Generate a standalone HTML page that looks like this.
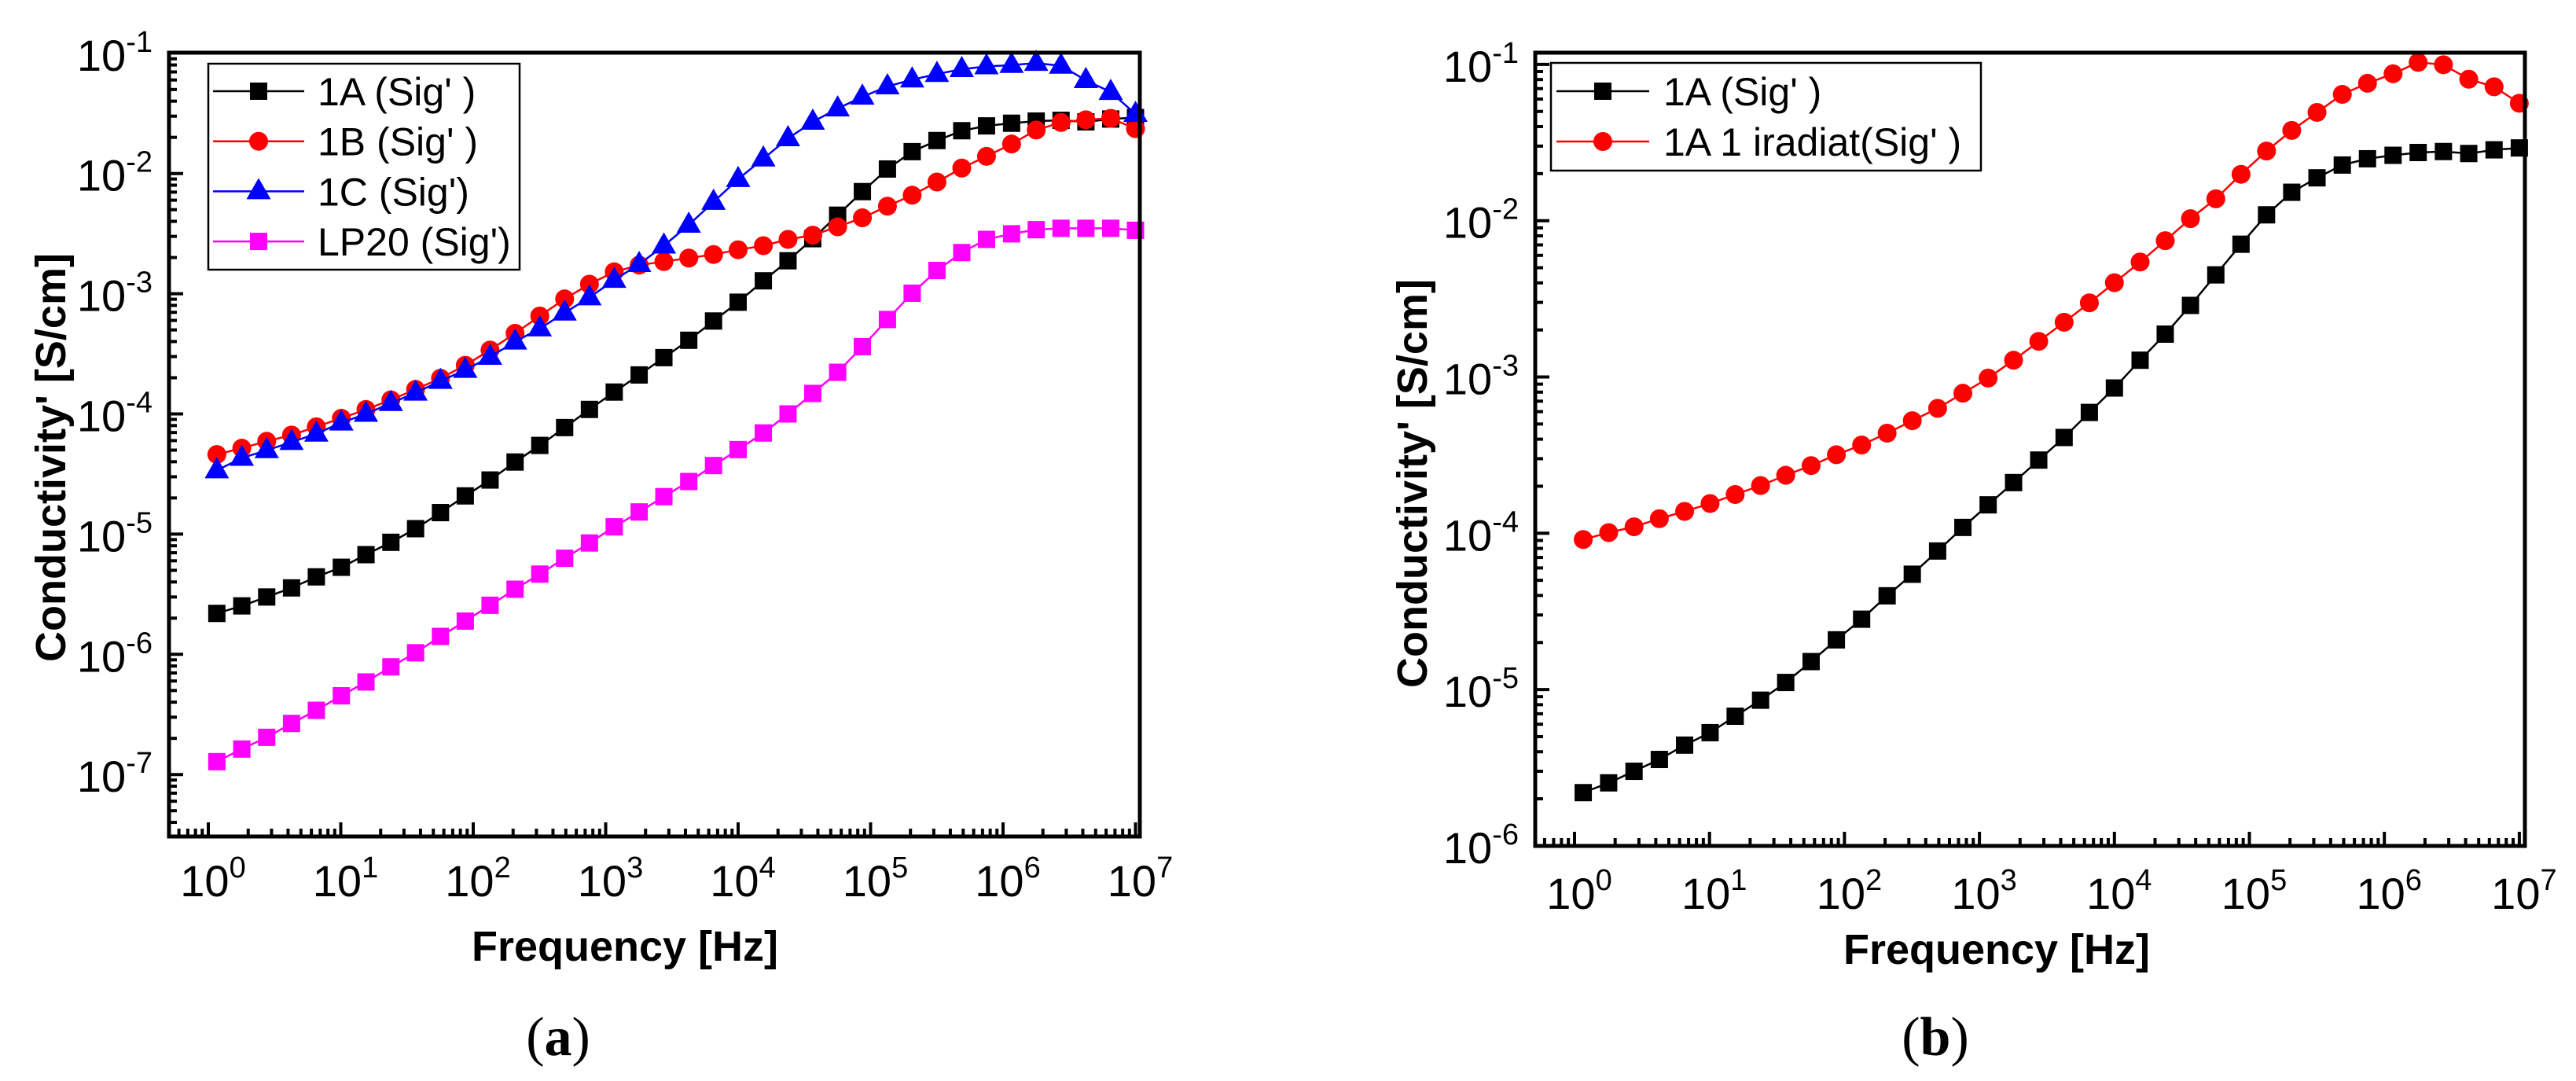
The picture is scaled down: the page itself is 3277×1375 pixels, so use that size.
<!DOCTYPE html>
<html><head><meta charset="utf-8"><style>
html,body{margin:0;padding:0;background:#fff;}
svg{display:block;font-family:"Liberation Sans",Arial,sans-serif;}
</style></head>
<body>
<svg id="fig" width="3277" height="1375" viewBox="0 0 3277 1375" xmlns="http://www.w3.org/2000/svg">
<rect x="0" y="0" width="3277" height="1375" fill="#fff"/>
</svg>
<script>
// ---- data ----
const freq = [1.16,1.79,2.76,4.25,6.54,10.1,15.5,23.9,36.7,56.6,87.1,134,207,318,490,754,1160,1790,2750,4240,6520,10000,15500,23800,36600,56400,86700,1.34e5,2.06e5,3.17e5,4.88e5,7.5e5,1.16e6,1.78e6,2.74e6,4.22e6,6.5e6,1e7];
const sig1A = [2.19e-6,2.53e-6,3.0e-6,3.57e-6,4.41e-6,5.3e-6,6.75e-6,8.55e-6,1.11e-5,1.51e-5,2.08e-5,2.82e-5,3.98e-5,5.47e-5,7.7e-5,1.09e-4,1.52e-4,2.11e-4,2.94e-4,4.1e-4,5.93e-4,8.5e-4,1.28e-3,1.88e-3,2.87e-3,4.5e-3,7.07e-3,1.09e-2,1.52e-2,1.88e-2,2.27e-2,2.49e-2,2.62e-2,2.73e-2,2.77e-2,2.69e-2,2.84e-2,2.92e-2];
const sig1B = [4.6e-5,5.19e-5,5.92e-5,6.67e-5,7.82e-5,9.2e-5,1.09e-4,1.31e-4,1.6e-4,1.98e-4,2.54e-4,3.4e-4,4.68e-4,6.52e-4,9.06e-4,1.2e-3,1.52e-3,1.73e-3,1.85e-3,1.98e-3,2.12e-3,2.32e-3,2.51e-3,2.83e-3,3.07e-3,3.6e-3,4.28e-3,5.35e-3,6.6e-3,8.5e-3,1.11e-2,1.39e-2,1.76e-2,2.3e-2,2.66e-2,2.8e-2,2.88e-2,2.36e-2];
const sig1C = [3.39e-5,4.3e-5,4.98e-5,5.83e-5,6.84e-5,8.45e-5,1.0e-4,1.23e-4,1.5e-4,1.88e-4,2.32e-4,2.98e-4,3.99e-4,5.13e-4,6.95e-4,9.3e-4,1.3e-3,1.76e-3,2.51e-3,3.74e-3,5.8e-3,8.98e-3,1.33e-2,1.96e-2,2.69e-2,3.47e-2,4.35e-2,5.3e-2,6.04e-2,6.72e-2,7.38e-2,7.78e-2,7.98e-2,8.3e-2,7.87e-2,5.97e-2,4.76e-2,3.12e-2];
const sigLP20 = [1.28e-7,1.63e-7,2.04e-7,2.66e-7,3.42e-7,4.52e-7,5.89e-7,7.87e-7,1.03e-6,1.41e-6,1.89e-6,2.56e-6,3.48e-6,4.65e-6,6.3e-6,8.44e-6,1.15e-5,1.53e-5,2.05e-5,2.74e-5,3.72e-5,5.05e-5,6.94e-5,1.0e-4,1.48e-4,2.22e-4,3.63e-4,6.1e-4,1.01e-3,1.56e-3,2.2e-3,2.83e-3,3.15e-3,3.41e-3,3.5e-3,3.5e-3,3.5e-3,3.37e-3];
const sig1Airr = [9.12e-5,1.01e-4,1.1e-4,1.24e-4,1.38e-4,1.55e-4,1.77e-4,2.02e-4,2.35e-4,2.71e-4,3.18e-4,3.67e-4,4.37e-4,5.25e-4,6.3e-4,7.87e-4,9.84e-4,1.28e-3,1.69e-3,2.24e-3,2.98e-3,4.01e-3,5.44e-3,7.45e-3,1.03e-2,1.38e-2,1.98e-2,2.79e-2,3.78e-2,4.93e-2,6.43e-2,7.57e-2,8.71e-2,1.03e-1,9.95e-2,8.04e-2,7.19e-2,5.64e-2];
const xTickExps = [0,1,2,3,4,5,6,7];
const yTickExpsA = [-1,-2,-3,-4,-5,-6,-7];
const yTickExpsB = [-1,-2,-3,-4,-5,-6];
const legendA = ["1A (Sig' )","1B (Sig' )","1C (Sig')","LP20 (Sig')"];
const legendB = ["1A (Sig' )","1A 1 iradiat(Sig' )"];

const NS = "http://www.w3.org/2000/svg";
const svg = document.getElementById('fig');
function mk(tag, attrs, parent){
  const e = document.createElementNS(NS, tag);
  for (const k in attrs) e.setAttribute(k, attrs[k]);
  (parent||svg).appendChild(e);
  return e;
}
function marker(g, shape, x, y, color){
  let m;
  if (shape==='square') m = mk('rect',{x:x-11,y:y-11,width:22,height:22,fill:color},g);
  else if (shape==='circle') m = mk('ellipse',{cx:x,cy:y,rx:12,ry:12,fill:color},g);
  else m = mk('polygon',{points:`${x},${y-17} ${x-15.5},${y+10} ${x+15.5},${y+10}`,fill:color},g);
  return m;
}
function panel(cfg){
  const P = mk('g',{});
  
  
  const X = v => cfg.x0 + Math.log10(v)*cfg.xd;
  const Y = v => cfg.y1 + (-1 - Math.log10(v))*cfg.yd;
  const L = cfg.left, R = cfg.right, T = cfg.top, B = cfg.bottom;
  // series
  cfg.series.forEach(s=>{
    const g = mk('g',{},P);
    
    
    const pts = freq.map((f,i)=>X(f).toFixed(1)+','+Y(s.data[i]).toFixed(1)).join(' ');
    const ln = mk('polyline',{points:pts,fill:'none',stroke:s.color,'stroke-width':2.5},g);
    
    
    freq.forEach((f,i)=>{
      const m = marker(g, s.shape, X(f), Y(s.data[i]), s.color);
      
      
    });
  });
  // frame
  const fr = mk('rect',{x:L,y:T,width:R-L,height:B-T,fill:'none',stroke:'#000','stroke-width':5},P);
  
  
  // x ticks
  const xa = mk('g',{},P);
  
  
  for (let e=-1;e<=7;e++){
    for (let k=1;k<=9;k++){
      const v = k*Math.pow(10,e); const x = X(v);
      if (x<L+2||x>R-2) continue;
      const len = k===1?18:10;
      mk('line',{x1:x,y1:B,x2:x,y2:B-len,stroke:'#000','stroke-width':4},xa);
    }
  }
  xTickExps.forEach(e=>{
    const t = mk('text',{x:X(Math.pow(10,e))+6,y:cfg.xLabY,'text-anchor':'middle','font-size':56,fill:'#000'},xa);
    
    
    t.appendChild(document.createTextNode('10'));
    const s = mk('tspan',{dy:-24,'font-size':38},t); s.textContent = String(e);
  });
  // y ticks
  const ya = mk('g',{},P);
  
  
  for (let e=-9;e<=0;e++){
    for (let k=1;k<=9;k++){
      const v = k*Math.pow(10,e); const y = Y(v);
      if (y<T+2||y>B-2) continue;
      const len = k===1?18:10;
      mk('line',{x1:L,y1:y,x2:L+len,y2:y,stroke:'#000','stroke-width':4},ya);
    }
  }
  cfg.yTicks.forEach(e=>{
    const t = mk('text',{x:cfg.yLabX,y:Y(Math.pow(10,e))+22,'text-anchor':'end','font-size':56,fill:'#000'},ya);
    
    
    t.appendChild(document.createTextNode('10'));
    const s = mk('tspan',{dy:-24,'font-size':38},t); s.textContent = '-'+String(-e);
  });
  // titles
  const xt = mk('text',{x:cfg.xTitle[0],y:cfg.xTitle[1],'text-anchor':'middle','font-size':54,'font-weight':'bold'},P);
  
  
  xt.textContent = 'Frequency [Hz]';
  const yt = mk('text',{x:0,y:0,'text-anchor':'middle','font-size':54,'font-weight':'bold',transform:`translate(${cfg.yTitle[0]},${cfg.yTitle[1]}) rotate(-90)`},P);
  
  
  yt.textContent = "Conductivity' [S/cm]";
  // legend
  const lg = mk('g',{},P);
  
  
  const lb = cfg.legend;
  mk('rect',{x:lb.l,y:lb.t,width:lb.r-lb.l,height:lb.b-lb.t,fill:'#fff',stroke:'#000','stroke-width':2.5},lg);
  cfg.series.forEach((s,i)=>{
    const e = mk('g',{},lg);
    
    
    const y = lb.y0 + i*lb.dy;
    mk('line',{x1:lb.lx1,y1:y,x2:lb.lx2,y2:y,stroke:s.color,'stroke-width':2.5},e);
    marker(e, s.shape, lb.mx, y, s.color);
    const t = mk('text',{x:lb.tx,y:y+18,'font-size':50},e);
    t.textContent = cfg.labels[i];
  });
  // panel label
  const pl = mk('text',{x:cfg.pLabel[0],y:cfg.pLabel[1],'text-anchor':'middle','font-size':70,'font-family':'"Liberation Serif",serif'},P);
  
  
  pl.appendChild(document.createTextNode('('));
  const bt = mk('tspan',{'font-weight':'bold'},pl); bt.textContent = cfg.pLetter;
  pl.appendChild(document.createTextNode(')'));
}
panel({name:'panel-a-chart', x0:265, xd:168.5, y1:67.8, yd:152.9, left:215, right:1450, top:67, bottom:1064,
  xLabY:1140, yLabX:194, yTicks:yTickExpsA, xTitle:[795,1222], yTitle:[83,582], pLabel:[710,1342], pLetter:'a',
  legend:{l:265,r:661,t:81,b:343,y0:116,dy:63.7,lx1:271,lx2:387,mx:329,tx:404},
  labels:legendA,
  series:[{name:'series-1a',data:sig1A,color:'#000',shape:'square'},
          {name:'series-1b',data:sig1B,color:'#ff0000',shape:'circle'},
          {name:'series-1c',data:sig1C,color:'#0000ff',shape:'triangle'},
          {name:'series-lp20',data:sigLP20,color:'#ff00ff',shape:'square'}]});
panel({name:'panel-b-chart', x0:2003, xd:171.7, y1:81.9, yd:198.8, left:1953, right:3212, top:67, bottom:1076,
  xLabY:1156, yLabX:1932, yTicks:yTickExpsB, xTitle:[2540,1226], yTitle:[1815,615], pLabel:[2462,1342], pLetter:'b',
  legend:{l:1973,r:2520,t:80,b:217,y0:116,dy:64,lx1:1980,lx2:2098,mx:2039,tx:2116},
  labels:legendB,
  series:[{name:'series-1a',data:sig1A,color:'#000',shape:'square'},
          {name:'series-1a-irradiated',data:sig1Airr,color:'#ff0000',shape:'circle'}]});
</script>
</body></html>
